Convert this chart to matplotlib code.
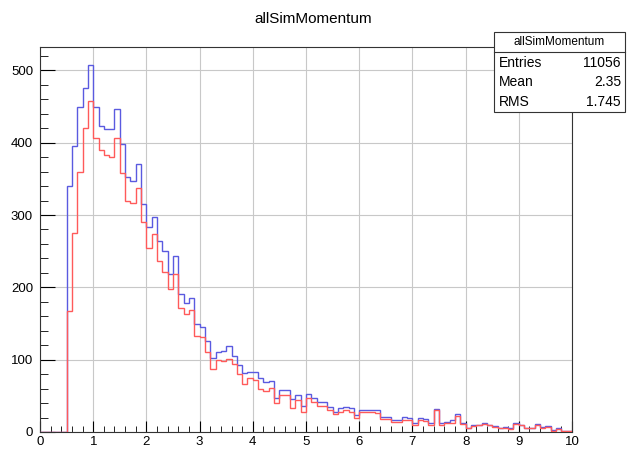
import matplotlib
matplotlib.use("Agg")
import matplotlib.pyplot as plt
from matplotlib.patches import Rectangle
from matplotlib.ticker import MultipleLocator
import numpy as np

plt.rcParams['font.family'] = ['Liberation Sans', 'DejaVu Sans']

# histogram: 100 bins from 0 to 10
bin_edges = np.linspace(0.0, 10.0, 101)

blue_counts = [
    0, 0, 0, 0, 0, 340, 396, 450, 475, 507,
    449, 423, 419, 419, 447, 398, 353, 347, 371, 315,
    283, 297, 264, 250, 218, 243, 191, 179, 185, 149,
    145, 126, 103, 110, 112, 119, 105, 92, 82, 83,
    83, 74, 69, 70, 47, 58, 58, 45, 51, 36,
    52, 47, 42, 41, 35, 28, 33, 35, 33, 24,
    31, 31, 31, 31, 21, 21, 16, 16, 21, 19,
    13, 19, 18, 12, 32, 12, 14, 16, 25, 13,
    6, 10, 10, 13, 10, 8, 6, 7, 5, 13,
    10, 5, 6, 11, 7, 8, 3, 5, 2, 2,
]

red_counts = [
    0, 0, 0, 0, 0, 167, 275, 359, 421, 458,
    407, 390, 383, 380, 406, 358, 320, 316, 338, 290,
    255, 274, 237, 221, 198, 218, 172, 163, 168, 133,
    131, 110, 87, 99, 98, 101, 94, 80, 66, 75,
    72, 59, 56, 61, 40, 51, 51, 33, 44, 28,
    47, 42, 36, 36, 30, 25, 28, 30, 28, 19,
    27, 27, 27, 26, 18, 18, 14, 14, 17, 17,
    10, 16, 15, 10, 30, 9, 12, 13, 22, 11,
    5, 8, 9, 11, 9, 7, 5, 6, 4, 11,
    9, 5, 5, 9, 6, 7, 2, 4, 1, 1,
]

hist_name = "allSimMomentum"
stat_names = ["Entries", "Mean", "RMS"]
stat_values = ["11056", "2.35", "1.745"]

fig = plt.figure(figsize=(6.27, 4.5), dpi=100)
ax = fig.add_axes([0.0638, 0.04, 0.8485, 0.8556])

ax.stairs(blue_counts, bin_edges, baseline=0, color='#5a5ae0', lw=1.0, zorder=3)
ax.stairs(red_counts, bin_edges, baseline=0, color='#ff5a5a', lw=1.0, zorder=4)

ax.set_xlim(0, 10)
ax.set_ylim(0, max(blue_counts) * 1.05)

ax.xaxis.set_major_locator(MultipleLocator(1))
ax.xaxis.set_minor_locator(MultipleLocator(0.2))
ax.yaxis.set_major_locator(MultipleLocator(100))
ax.yaxis.set_minor_locator(MultipleLocator(20))

ax.tick_params(axis='x', which='major', direction='in', length=8, width=0.8, pad=3, labelsize=9.5)
ax.tick_params(axis='x', which='minor', direction='in', length=4, width=0.6)
ax.tick_params(axis='y', which='major', direction='in', length=11, width=0.8, pad=5, labelsize=9.5)
ax.tick_params(axis='y', which='minor', direction='in', length=5.5, width=0.6)

ax.grid(True, which='major', color='#c8c8c8', lw=0.8, zorder=0)
ax.set_axisbelow(True)
for s in ax.spines.values():
    s.set_color('#333333')
    s.set_linewidth(0.8)

fig.text(0.5, 0.958, hist_name, ha='center', va='center', fontsize=11)

# stats box in the top right corner
W, H = 627.0, 450.0
bx0, bx1, by0, by1 = 494, 625, 32, 112
box = Rectangle((bx0 / W, 1 - by1 / H), (bx1 - bx0) / W, (by1 - by0) / H,
                transform=fig.transFigure, facecolor='white', edgecolor='#333333',
                lw=0.8, zorder=10)
fig.patches.append(box)
fig.add_artist(plt.Line2D([bx0 / W, bx1 / W], [1 - 52 / H, 1 - 52 / H],
                          transform=fig.transFigure, color='#333333', lw=0.8, zorder=11))
fig.text((bx0 + bx1) / 2 / W, 1 - 42 / H, hist_name, ha='center', va='center',
         fontsize=8.5, zorder=12)
for i, (name, val) in enumerate(zip(stat_names, stat_values)):
    yy = 1 - (63 + i * 19.5) / H
    fig.text((bx0 + 5) / W, yy, name, ha='left', va='center', fontsize=10, zorder=12)
    fig.text((bx1 - 4) / W, yy, val, ha='right', va='center', fontsize=10, zorder=12)

fig.savefig("out.png", dpi=100)
